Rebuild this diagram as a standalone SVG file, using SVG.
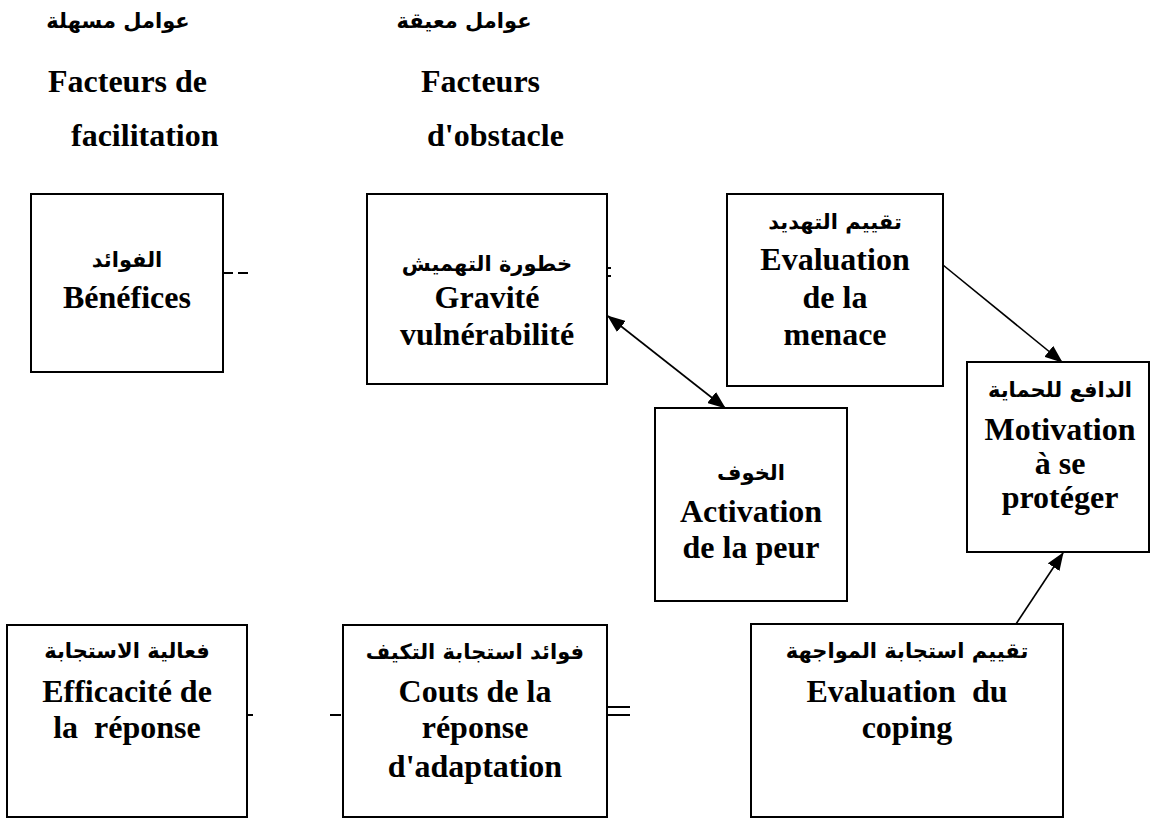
<svg xmlns="http://www.w3.org/2000/svg" width="1151" height="818" viewBox="0 0 1151 818">
<style>
.box{fill:#fff;stroke:#000;stroke-width:2}
.fr{font-family:"Liberation Serif","Times New Roman",serif;font-weight:bold;font-size:32px;fill:#000}
.ar{font-family:"DejaVu Sans",sans-serif;font-weight:bold;font-size:21px;fill:#000}
.c{text-anchor:middle}
.ln{stroke:#000;stroke-width:1.6;fill:none}
.mk{stroke:#000;stroke-width:2;fill:none}
</style>
<defs>
<marker id="ah" viewBox="0 0 18 14" refX="17" refY="7" markerWidth="18" markerHeight="14" markerUnits="userSpaceOnUse" orient="auto-start-reverse">
<path d="M0,0 L18,7 L0,14 Z" fill="#000"/>
</marker>
</defs>
<rect width="1151" height="818" fill="#fff"/>
<g id="headers">
<text class="ar c" x="118" y="28" direction="rtl">عوامل مسهلة</text>
<text class="fr" x="48" y="92">Facteurs de</text>
<text class="fr" x="71" y="146">facilitation</text>
<text class="ar c" x="464" y="28" direction="rtl">عوامل معيقة</text>
<text class="fr" x="421" y="92">Facteurs</text>
<text class="fr" x="427" y="146">d'obstacle</text>
</g>
<g id="benefices">
<rect class="box" x="31" y="194" width="192" height="178"/>
<text class="ar c" x="127" y="267" direction="rtl">الفوائد</text>
<text class="fr c" x="127" y="308">Bénéfices</text>
</g>
<g id="gravite">
<rect class="box" x="367" y="194" width="240" height="190"/>
<text class="ar c" x="487" y="271" direction="rtl">خطورة التهميش</text>
<text class="fr c" x="487" y="308">Gravité</text>
<text class="fr c" x="487" y="345">vulnérabilité</text>
</g>
<g id="menace">
<rect class="box" x="727" y="194" width="216" height="192"/>
<text class="ar c" x="835" y="229" direction="rtl">تقييم التهديد</text>
<text class="fr c" x="835" y="270">Evaluation</text>
<text class="fr c" x="835" y="308">de la</text>
<text class="fr c" x="835" y="345">menace</text>
</g>
<g id="peur">
<rect class="box" x="655" y="408" width="192" height="193"/>
<text class="ar c" x="751" y="480" direction="rtl">الخوف</text>
<text class="fr c" x="751" y="522">Activation</text>
<text class="fr c" x="751" y="558">de la peur</text>
</g>
<g id="motivation">
<rect class="box" x="967" y="362" width="182" height="190"/>
<text class="ar c" x="1060" y="397" direction="rtl">الدافع للحماية</text>
<text class="fr c" x="1060" y="440">Motivation</text>
<text class="fr c" x="1060" y="474">à se</text>
<text class="fr c" x="1060" y="508">protéger</text>
</g>
<g id="efficacite">
<rect class="box" x="7" y="625" width="240" height="192"/>
<text class="ar c" x="127" y="658" direction="rtl">فعالية الاستجابة</text>
<text class="fr c" x="127" y="702">Efficacité de</text>
<text class="fr c" x="127" y="738" xml:space="preserve">la  réponse</text>
</g>
<g id="couts">
<rect class="box" x="343" y="625" width="264" height="192"/>
<text class="ar c" x="475" y="659" direction="rtl">فوائد استجابة التكيف</text>
<text class="fr c" x="475" y="702">Couts de la</text>
<text class="fr c" x="475" y="738">réponse</text>
<text class="fr c" x="475" y="777">d'adaptation</text>
</g>
<g id="coping">
<rect class="box" x="751" y="624" width="312" height="193"/>
<text class="ar c" x="907" y="658" direction="rtl">تقييم استجابة المواجهة</text>
<text class="fr c" x="907" y="702" xml:space="preserve">Evaluation  du</text>
<text class="fr c" x="907" y="738">coping</text>
</g>
<g id="connectors">
<line class="ln" x1="608" y1="316" x2="725" y2="408" marker-start="url(#ah)" marker-end="url(#ah)"/>
<line class="ln" x1="943" y1="265" x2="1062" y2="362" marker-end="url(#ah)"/>
<line class="ln" x1="1016" y1="624" x2="1063" y2="553" marker-end="url(#ah)"/>
<line class="mk" x1="224" y1="273" x2="233" y2="273"/>
<line class="mk" x1="238" y1="273" x2="248" y2="273"/>
<line class="mk" x1="607" y1="268" x2="611" y2="268" stroke-width="1.2"/>
<line class="mk" x1="607" y1="276" x2="611" y2="276" stroke-width="1.2"/>
<line class="mk" x1="247" y1="715" x2="253" y2="715"/>
<line class="mk" x1="330" y1="715" x2="341" y2="715"/>
<line class="mk" x1="607" y1="707" x2="630" y2="707"/>
<line class="mk" x1="607" y1="715" x2="630" y2="715"/>
</g>
</svg>
